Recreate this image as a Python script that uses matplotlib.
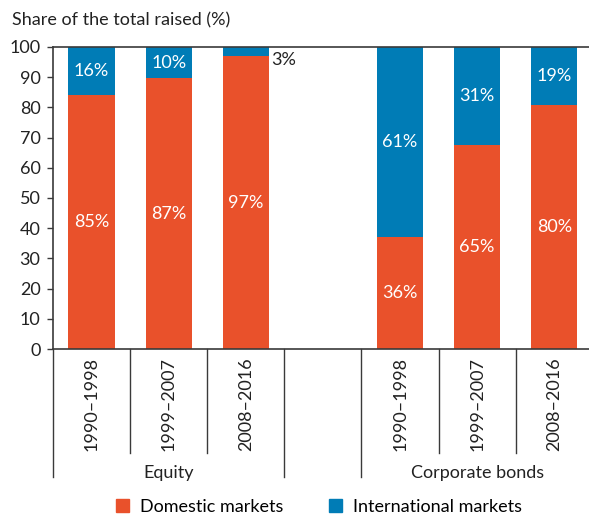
import matplotlib
matplotlib.use("Agg")
from matplotlib import pyplot as plt
from matplotlib.patches import Patch
import matplotlib.transforms as mtransforms

plt.rcParams['font.family'] = ['Lato', 'DejaVu Sans']

# data
periods = ['1990–1998', '1999–2007', '2008–2016', '', '1990–1998', '1999–2007', '2008–2016']
groups = ['Equity', 'Corporate bonds']
# bar heights (share of total, normalised to 100)
domestic = [84.2, 89.7, 97.0, 0, 37.1, 67.7, 80.8]
international = [15.8, 10.3, 3.0, 0, 62.9, 32.3, 19.2]
# printed labels
dom_labels = ['85%', '87%', '97%', '', '36%', '65%', '80%']
int_labels = ['16%', '10%', '3%', '', '61%', '31%', '19%']

c_dom = '#E9512B'
c_int = '#007CB6'
axis_col = '#3a3a3a'

fig = plt.figure(figsize=(5.89, 5.16), dpi=100)
ax = fig.add_axes([53/589, 1 - 349/516, 536/589, 302/516])

x = list(range(len(periods)))
ax.bar(x, domestic, width=0.6, color=c_dom)
ax.bar(x, international, width=0.6, bottom=domestic, color=c_int)

fs = 13
for i in x:
    if not periods[i]:
        continue
    ax.text(i, domestic[i] / 2, dom_labels[i], color='white', ha='center', va='center', fontsize=fs)
    if international[i] > 5:
        ax.text(i, domestic[i] + international[i] / 2, int_labels[i], color='white',
                ha='center', va='center', fontsize=fs)
    else:
        ax.text(i + 0.33, 95.7, int_labels[i], color='#222222', ha='left', va='center', fontsize=fs)

ax.set_xlim(-0.5, 6.45)
ax.set_ylim(0, 100)
ax.set_yticks(range(0, 101, 10))
ax.tick_params(axis='y', labelsize=fs, length=4, color=axis_col, width=1, pad=5, colors='#222222')
ax.set_xticks([])
for s in ['left', 'bottom', 'top']:
    ax.spines[s].set_color(axis_col)
    ax.spines[s].set_linewidth(1.2)
ax.spines['right'].set_visible(False)

# category axis below the plot
trans = mtransforms.blended_transform_factory(ax.transData, ax.transAxes)
for b in [-0.5, 0.5, 1.5, 2.5, 3.5, 4.5, 5.5, 6.5]:
    low = -0.424 if b in (-0.5, 2.5, 3.5, 6.5) else -0.344
    ax.plot([b, b], [0, low], color=axis_col, lw=1, transform=trans, clip_on=False)
for i, p in enumerate(periods):
    if p:
        ax.text(i, -0.182, p, rotation=90, ha='center', va='center', fontsize=fs,
                color='#222222', transform=trans)
ax.text(1, -0.41, groups[0], ha='center', va='center', fontsize=fs, color='#222222', transform=trans)
ax.text(5, -0.41, groups[1], ha='center', va='center', fontsize=fs, color='#222222', transform=trans)

fig.text(12/589, 1 - 20/516, 'Share of the total raised (%)', ha='left', va='center',
         fontsize=fs, color='#222222')

handles = [Patch(color=c_dom, label='Domestic markets'),
           Patch(color=c_int, label='International markets')]
fig.legend(handles=handles, loc='center', bbox_to_anchor=(319/589, 1 - 507/516), ncol=2,
           frameon=False, fontsize=fs, handlelength=0.75, handleheight=0.75,
           handletextpad=0.6, columnspacing=2.5, borderpad=0)

fig.savefig('out.png', dpi=100)
